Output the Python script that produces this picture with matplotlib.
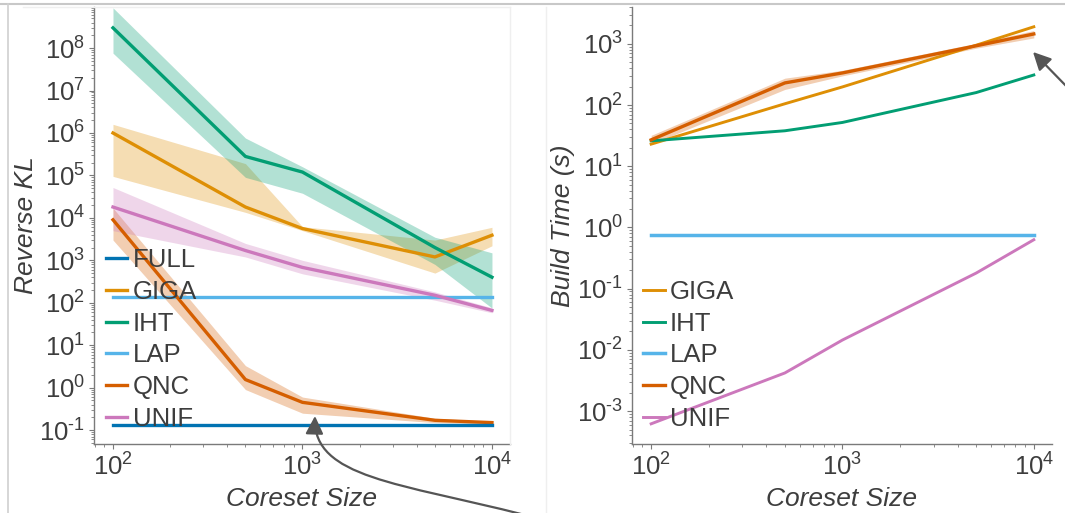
import numpy as np
import matplotlib
matplotlib.use("Agg")
import matplotlib.pyplot as plt
from matplotlib.ticker import LogLocator, NullFormatter, FuncFormatter
from matplotlib.patches import FancyArrowPatch
from matplotlib.path import Path
from matplotlib.lines import Line2D

plt.rcParams['font.family'] = ['Liberation Sans', 'DejaVu Sans']
plt.rcParams['mathtext.fontset'] = 'custom'
plt.rcParams['mathtext.rm'] = 'Liberation Sans'
plt.rcParams['mathtext.it'] = 'Liberation Sans:italic'

# coreset sizes
sizes = [100, 500, 1000, 5000, 10000]

# reverse KL (median and band)
kl_full = [0.135, 0.135, 0.135, 0.135, 0.135]
kl_lap = [140, 140, 140, 140, 140]
kl_giga = [1.0e6, 1.8e4, 5.6e3, 1.2e3, 3.9e3]
kl_giga_lo = [9.5e4, 1.35e4, 5.0e3, 5.0e2, 2.2e3]
kl_giga_hi = [1.6e6, 1.9e5, 6.2e3, 3.0e3, 6.0e3]
kl_iht = [3.0e8, 2.8e5, 1.2e5, 2.0e3, 4.0e2]
kl_iht_lo = [7.6e7, 9.0e4, 3.8e4, 8.0e2, 75]
kl_iht_hi = [8.9e8, 7.6e5, 1.6e5, 3.5e3, 1.5e3]
kl_qnc = [9.0e3, 1.55, 0.45, 0.17, 0.15]
kl_qnc_lo = [3.0e3, 0.9, 0.25, 0.15, 0.14]
kl_qnc_hi = [1.7e4, 3.3, 0.6, 0.19, 0.16]
kl_unif = [1.8e4, 1.7e3, 680, 150, 66]
kl_unif_lo = [5.0e3, 1.2e3, 480, 115, 58]
kl_unif_hi = [5.2e4, 2.5e3, 1.0e3, 180, 76]

# build time in seconds
bt_giga = [23, 105, 198, 950, 1900]
bt_iht = [26, 38, 52, 160, 310]
bt_lap = [0.76, 0.76, 0.76, 0.76, 0.76]
bt_qnc = [27, 230, 335, 930, 1450]
bt_qnc_lo = [23, 180, 300, 850, 1250]
bt_qnc_hi = [32, 275, 370, 1020, 1650]
bt_unif = [6.2e-4, 4.2e-3, 1.45e-2, 0.18, 0.63]

C_FULL = '#0173b2'
C_GIGA = '#de8f05'
C_IHT = '#029e73'
C_LAP = '#56b4e9'
C_QNC = '#d55e00'
C_UNIF = '#cc78bc'
TXT = '#3d3d3d'
SPINE = '#7a7a7a'

W, H = 1065, 513
fig = plt.figure(figsize=(W / 100, H / 100), dpi=100)
ax1 = fig.add_axes([94 / W, 69 / H, 416 / W, 437 / H])
ax2 = fig.add_axes([632 / W, 69 / H, 420 / W, 437 / H])


def pow10(v, pos):
    e = int(round(np.log10(v)))
    # short hyphen in the exponent, like the original slide
    e_txt = str(e).replace('-', '\u2010')
    return '10$^{\\mathregular{%s}}$' % e_txt


def style_axis(ax, ylim, ylabel):
    ax.set_xscale('log')
    ax.set_yscale('log')
    ax.set_xlim(79.4, 12450)
    ax.set_ylim(*ylim)
    for s in ['top', 'right']:
        ax.spines[s].set_visible(False)
    for s in ['left', 'bottom']:
        ax.spines[s].set_color(SPINE)
        ax.spines[s].set_linewidth(1.0)
    ax.xaxis.set_major_locator(LogLocator(base=10, numticks=100))
    ax.yaxis.set_major_locator(LogLocator(base=10, numticks=100))
    ax.xaxis.set_minor_locator(LogLocator(base=10, subs=np.arange(2, 10), numticks=100))
    ax.yaxis.set_minor_locator(LogLocator(base=10, subs=np.arange(2, 10), numticks=100))
    ax.xaxis.set_major_formatter(FuncFormatter(pow10))
    ax.yaxis.set_major_formatter(FuncFormatter(pow10))
    ax.xaxis.set_minor_formatter(NullFormatter())
    ax.yaxis.set_minor_formatter(NullFormatter())
    ax.tick_params(which='major', direction='out', length=3.5, width=0.8,
                   color=SPINE, labelcolor=TXT, labelsize=18.5, pad=3)
    ax.tick_params(which='minor', direction='out', length=2, width=0.6, color=SPINE)
    ax.set_xlabel('Coreset Size', fontsize=19, style='italic', color=TXT, labelpad=5)
    ax.set_ylabel(ylabel, fontsize=19, style='italic', color=TXT, labelpad=1)


# left panel: reverse KL
lw = 2.4
ax1.plot(sizes, kl_full, color=C_FULL, lw=lw, label='FULL', zorder=4)
ax1.fill_between(sizes, kl_giga_lo, kl_giga_hi, color=C_GIGA, alpha=0.3, lw=0)
ax1.plot(sizes, kl_giga, color=C_GIGA, lw=lw, label='GIGA')
ax1.fill_between(sizes, kl_iht_lo, kl_iht_hi, color=C_IHT, alpha=0.3, lw=0)
ax1.plot(sizes, kl_iht, color=C_IHT, lw=lw, label='IHT')
ax1.plot(sizes, kl_lap, color=C_LAP, lw=lw, label='LAP')
ax1.fill_between(sizes, kl_qnc_lo, kl_qnc_hi, color=C_QNC, alpha=0.3, lw=0)
ax1.plot(sizes, kl_qnc, color=C_QNC, lw=lw, label='QNC')
ax1.fill_between(sizes, kl_unif_lo, kl_unif_hi, color=C_UNIF, alpha=0.3, lw=0)
ax1.plot(sizes, kl_unif, color=C_UNIF, lw=lw, label='UNIF')
style_axis(ax1, (0.047, 9.3e8), 'Reverse KL')

# right panel: build time
lw2 = 2.1
ax2.plot(sizes, bt_giga, color=C_GIGA, lw=lw2, label='GIGA')
ax2.plot(sizes, bt_iht, color=C_IHT, lw=lw2, label='IHT')
ax2.plot(sizes, bt_lap, color=C_LAP, lw=lw2 + 0.4, label='LAP')
ax2.fill_between(sizes, bt_qnc_lo, bt_qnc_hi, color=C_QNC, alpha=0.3, lw=0)
ax2.plot(sizes, bt_qnc, color=C_QNC, lw=lw2 + 0.3, label='QNC')
ax2.plot(sizes, bt_unif, color=C_UNIF, lw=lw2, label='UNIF')
style_axis(ax2, (2.9e-4, 4.0e3), 'Build Time (s)')

for ax, x0 in [(ax1, 0.028), (ax2, 0.026)]:
    leg = ax.legend(loc='lower left', bbox_to_anchor=(x0, 0.03), frameon=False,
                    fontsize=18.5, handlelength=0.85, handletextpad=0.2,
                    labelspacing=0.3, borderpad=0, borderaxespad=0)
    for t in leg.get_texts():
        t.set_color(TXT)

# slide frame lines
fig.add_artist(Line2D([0, 1], [1 - 4 / H, 1 - 4 / H], color='#c8c8c8', lw=1.5,
                      transform=fig.transFigure))
fig.add_artist(Line2D([8 / W, 8 / W], [0, 1 - 4 / H], color='#d0d0d0', lw=1.2,
                      transform=fig.transFigure))
fig.add_artist(Line2D([23 / W, 510 / W], [1 - 7 / H, 1 - 7 / H], color='#efefef', lw=1,
                      transform=fig.transFigure))
fig.add_artist(Line2D([510 / W, 510 / W], [69 / H, 1 - 7 / H], color='#efefef', lw=1,
                      transform=fig.transFigure))
fig.add_artist(Line2D([546 / W, 546 / W], [0, 1 - 7 / H], color='#efefef', lw=1,
                      transform=fig.transFigure))

# annotation arrows
verts = [(525 / W, -2 / H), (400 / W, 30 / H), (313 / W, 35 / H), (315 / W, 97 / H)]
arrow_path = Path(verts, [Path.MOVETO, Path.CURVE4, Path.CURVE4, Path.CURVE4])
fig.add_artist(FancyArrowPatch(path=arrow_path, arrowstyle='-|>,head_length=0.6,head_width=0.3',
                               mutation_scale=18, color='#555555', lw=1.6,
                               transform=fig.transFigure))
fig.add_artist(FancyArrowPatch((1070 / W, 1 - 90 / H), (1033 / W, 1 - 52 / H),
                               arrowstyle='-|>,head_length=0.6,head_width=0.3',
                               mutation_scale=18, color='#555555', lw=1.6,
                               shrinkA=0, shrinkB=0, transform=fig.transFigure))

fig.savefig('out.png', dpi=100)
